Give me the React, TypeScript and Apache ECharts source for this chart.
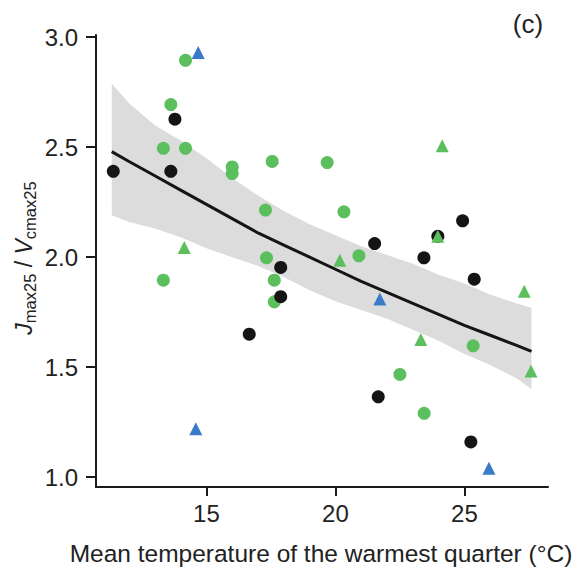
import React, { useEffect, useRef } from "react";
import * as echarts from "echarts";

// Observations (x: mean temperature of warmest quarter, y: Jmax25/Vcmax25)
const greenCircles: number[][] = [
  [14.19, 2.895], [13.62, 2.694], [13.33, 2.495], [14.19, 2.495], [16.0, 2.41],
  [16.0, 2.38], [17.55, 2.435], [17.29, 2.214], [17.33, 1.997], [13.33, 1.895],
  [17.63, 1.895], [17.63, 1.797], [19.68, 2.43], [20.33, 2.206], [20.91, 2.006],
  [25.34, 1.597], [22.5, 1.467], [23.44, 1.29],
];
const blackCircles: number[][] = [
  [11.39, 2.39], [13.78, 2.627], [13.62, 2.39], [17.88, 1.953], [17.88, 1.82],
  [16.66, 1.65], [21.52, 2.062], [24.93, 2.165], [23.97, 2.095], [23.43, 1.997],
  [25.38, 1.9], [21.66, 1.365], [25.25, 1.16],
];
const greenTriangles: number[][] = [
  [14.14, 2.044], [24.14, 2.506], [23.97, 2.095], [20.17, 1.986], [27.32, 1.845],
  [23.31, 1.626], [27.58, 1.482],
];
const blueTriangles: number[][] = [
  [14.68, 2.93], [14.59, 1.22], [21.72, 1.81], [25.95, 1.04],
];

// Fitted curve and confidence band
const fitX = [11.33, 12, 13, 14, 15, 16, 17, 18, 19, 20, 21, 22, 23, 24, 25, 26, 27, 27.6];
const fitY = [2.48, 2.435, 2.37, 2.305, 2.24, 2.175, 2.11, 2.055, 2.0, 1.945, 1.89, 1.84, 1.79, 1.74, 1.69, 1.645, 1.6, 1.572];
const bandHi = [2.79, 2.7, 2.6, 2.53, 2.45, 2.36, 2.28, 2.21, 2.15, 2.1, 2.05, 2.01, 1.97, 1.92, 1.88, 1.83, 1.79, 1.77];
const bandLo = [2.19, 2.16, 2.13, 2.09, 2.04, 2.0, 1.96, 1.91, 1.85, 1.8, 1.76, 1.72, 1.67, 1.62, 1.56, 1.51, 1.45, 1.4];

const xTicks = [15, 20, 25];
const yTicks = [1.0, 1.5, 2.0, 2.5, 3.0];

const FONT = "'Liberation Sans', Arial, sans-serif";
const GREEN = "#5cbf5e";
const BLACK = "#151515";
const BLUE = "#3a7bc8";

export default function App() {
  const ref = useRef<HTMLDivElement>(null);
  useEffect(() => {
    document.body.style.margin = "0";
    const chart = echarts.init(ref.current!, null, { renderer: "svg" });
    const axisCommon = {
      axisLine: { show: true, onZero: false, lineStyle: { color: "#1a1a1a", width: 2 } },
      splitLine: { show: false },
    };
    chart.setOption({
      animation: false,
      backgroundColor: "#ffffff",
      grid: { left: 96, top: 35, right: 28, bottom: 84, containLabel: false },
      xAxis: {
        type: "value",
        min: 10.72,
        max: 28.24,
        ...axisCommon,
        axisTick: { show: true, length: 9, customValues: xTicks, lineStyle: { color: "#1a1a1a", width: 2 } },
        axisLabel: {
          customValues: xTicks,
          margin: 14,
          fontSize: 24,
          color: "#222",
          fontFamily: FONT,
        },
      },
      yAxis: {
        type: "value",
        min: 0.955,
        max: 3.01,
        ...axisCommon,
        axisTick: { show: true, length: 10, customValues: yTicks, lineStyle: { color: "#1a1a1a", width: 2 } },
        axisLabel: {
          customValues: yTicks,
          margin: 18,
          fontSize: 24,
          color: "#222",
          fontFamily: FONT,
          formatter: (v: number) => v.toFixed(1),
        },
      },
      graphic: [
        {
          type: "text",
          x: 321,
          y: 553,
          style: {
            text: "Mean temperature of the warmest quarter (°C)",
            font: `24.5px ${FONT}`,
            fill: "#222",
            align: "center",
            verticalAlign: "middle",
          },
        },
        {
          type: "text",
          x: 528,
          y: 24,
          style: {
            text: "(c)",
            font: `26px ${FONT}`,
            fill: "#222",
            align: "center",
            verticalAlign: "middle",
          },
        },
        {
          type: "text",
          x: 24,
          y: 258,
          rotation: Math.PI / 2,
          style: {
            text: "{it|J}{sub|max25}{n| / }{it|V}{sub|cmax25}",
            align: "center",
            verticalAlign: "middle",
            fill: "#222",
            rich: {
              it: { fontSize: 23, fontStyle: "italic", fontFamily: FONT, lineHeight: 28, fill: "#222" },
              n: { fontSize: 23, fontFamily: FONT, lineHeight: 28, fill: "#222" },
              sub: { fontSize: 16.5, fontFamily: FONT, lineHeight: 18, verticalAlign: "bottom", fill: "#222" },
            },
          },
        },
      ],
      series: [
        {
          type: "custom",
          coordinateSystem: "cartesian2d",
          silent: true,
          data: [[fitX[0], fitY[0]]],
          z: 1,
          renderItem: (_params: any, api: any) => {
            const pts: number[][] = [];
            for (let i = 0; i < fitX.length; i++) pts.push(api.coord([fitX[i], bandHi[i]]));
            for (let i = fitX.length - 1; i >= 0; i--) pts.push(api.coord([fitX[i], bandLo[i]]));
            return { type: "polygon", shape: { points: pts }, style: { fill: "#dcdcdc" } };
          },
        },
        {
          type: "line",
          data: fitX.map((x, i) => [x, fitY[i]]),
          smooth: false,
          showSymbol: false,
          symbol: "none",
          lineStyle: { color: BLACK, width: 3 },
          z: 2,
        },
        {
          type: "scatter",
          data: greenCircles,
          symbol: "circle",
          symbolSize: 13,
          itemStyle: { color: GREEN, opacity: 1 },
          z: 3,
        },
        {
          type: "scatter",
          data: blackCircles,
          symbol: "circle",
          symbolSize: 13,
          itemStyle: { color: BLACK, opacity: 1 },
          z: 4,
        },
        {
          type: "scatter",
          data: greenTriangles,
          symbol: "triangle",
          symbolSize: 13,
          itemStyle: { color: GREEN, opacity: 1 },
          z: 5,
        },
        {
          type: "scatter",
          data: blueTriangles,
          symbol: "triangle",
          symbolSize: 13,
          itemStyle: { color: BLUE, opacity: 1 },
          z: 6,
        },
      ],
    });
    return () => chart.dispose();
  }, []);
  return <div ref={ref} style={{ width: 576, height: 571 }} />;
}
